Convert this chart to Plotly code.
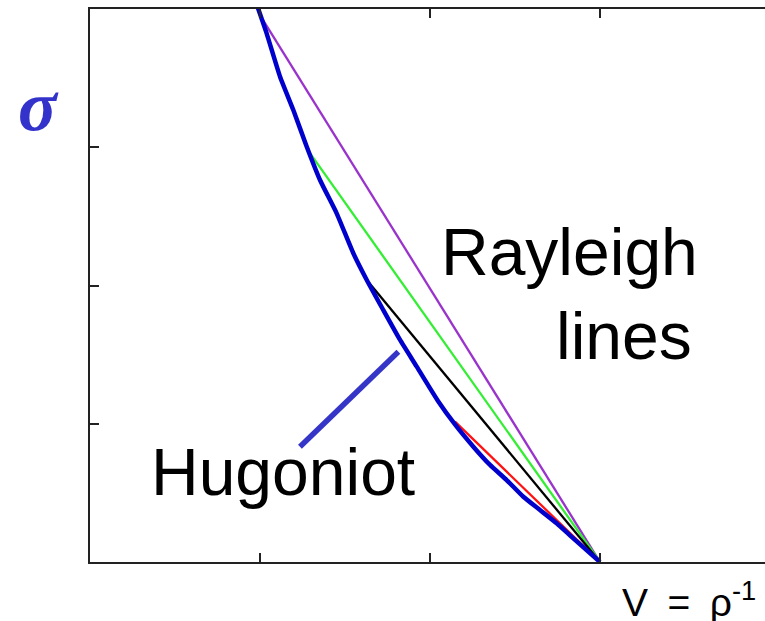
import plotly.graph_objects as go

# Hugoniot curve (V, sigma)
hug_v = [0.988, 1.039, 1.118, 1.196, 1.275, 1.353, 1.451, 1.549, 1.628, 1.725,
         1.824, 1.922, 2.047, 2.147, 2.255, 2.353, 2.451, 2.549, 2.647, 2.745,
         2.843, 3.000]
hug_s = [4.007, 3.824, 3.510, 3.269, 3.004, 2.763, 2.522, 2.233, 2.040, 1.823,
         1.606, 1.413, 1.165, 0.995, 0.834, 0.702, 0.593, 0.472, 0.376, 0.280,
         0.171, 0.000]

# Rayleigh lines: start point on Hugoniot -> initial state
origin_v = 3.0
origin_s = 0.0
ray_names = ["purple", "green", "black", "red"]
ray_v = [1.018, 1.275, 1.628, 2.147]
ray_s = [3.92, 2.99, 2.04, 1.015]
ray_colors = ["#9933CC", "#33EE33", "#000000", "#FF1111"]

# pointer line for the "Hugoniot" label
ptr_v = [1.235, 1.814]
ptr_s = [0.834, 1.521]

tick_vals = [1, 2, 3]

fig = go.Figure()
for name, v, s, c in zip(ray_names, ray_v, ray_s, ray_colors):
    fig.add_trace(go.Scatter(x=[v, origin_v], y=[s, origin_s], mode="lines",
                             line=dict(color=c, width=2.3), name=name,
                             hoverinfo="skip"))
fig.add_trace(go.Scatter(x=hug_v, y=hug_s, mode="lines",
                         line=dict(color="#0000CC", width=4.5, shape="spline",
                                   smoothing=0.5),
                         name="Hugoniot", hoverinfo="skip"))
fig.add_trace(go.Scatter(x=ptr_v, y=ptr_s, mode="lines",
                         line=dict(color="#3535C8", width=5.5), name="pointer",
                         hoverinfo="skip"))

txt = dict(family="Liberation Sans, Arial, sans-serif", color="black")
annos = [
    dict(text="Rayleigh", x=0.517, y=0.560, xanchor="left", yanchor="middle",
         font=dict(size=66, **txt)),
    dict(text="lines", x=0.895, y=0.409, xanchor="right", yanchor="middle",
         font=dict(size=66, **txt)),
    dict(text="Hugoniot", x=0.087, y=0.163, xanchor="left", yanchor="middle",
         font=dict(size=66, **txt)),
    dict(text="V\u2002=\u2002ρ<sup>-1</sup>", x=0.785, y=-0.068, xanchor="left",
         yanchor="middle", font=dict(size=39, **txt)),
    dict(text="<b><i>σ</i></b>", x=-0.077, y=0.825, xanchor="center",
         yanchor="middle",
         font=dict(size=72, family="Liberation Serif, Times New Roman, serif",
                   color="#3333CC")),
]
for a in annos:
    a.update(xref="paper", yref="paper", showarrow=False)

fig.update_layout(
    width=765, height=621,
    margin=dict(l=90, r=0, t=9, b=59),
    plot_bgcolor="white", paper_bgcolor="white",
    showlegend=False,
    annotations=annos,
    xaxis=dict(range=[0, 675 / 170], tickvals=tick_vals, showticklabels=False,
               ticks="inside", ticklen=9, tickwidth=1.5, tickcolor="#222",
               showline=True, linecolor="#222", linewidth=2, mirror="ticks",
               showgrid=False, zeroline=False, fixedrange=True),
    yaxis=dict(range=[0, 4], tickvals=tick_vals, showticklabels=False,
               ticks="inside", ticklen=9, tickwidth=1.5, tickcolor="#222",
               showline=True, linecolor="#222", linewidth=2,
               showgrid=False, zeroline=False, fixedrange=True),
)

fig.write_html("out.html", config=dict(displayModeBar=False),
               post_script="document.body.style.margin='0';"
                           "document.body.style.overflow='hidden';")
